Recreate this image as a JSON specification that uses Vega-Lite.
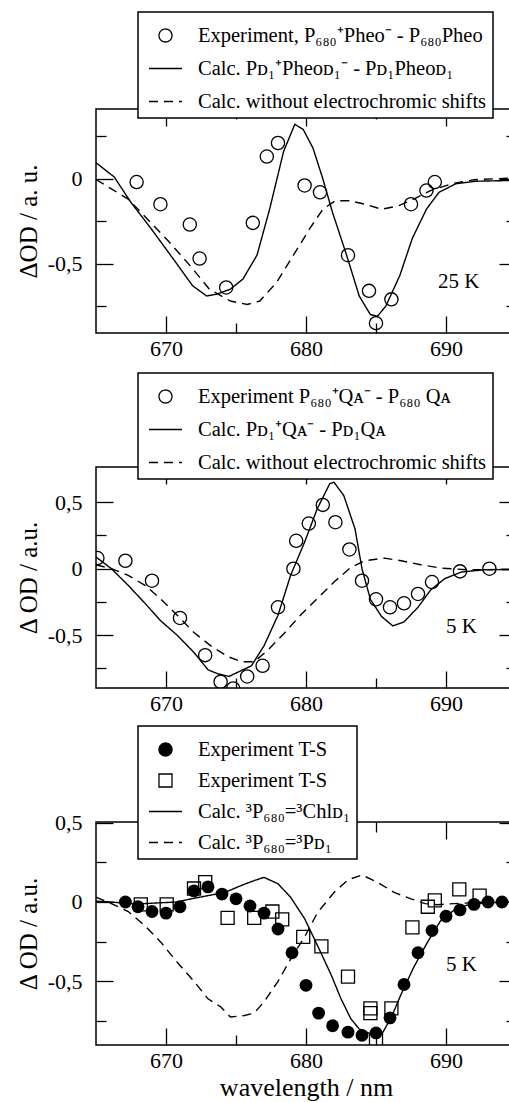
{
"$schema": "https://vega.github.io/schema/vega-lite/v6.json",
"background": "white",
"padding": {"left": 15, "top": 10, "right": 0, "bottom": 0},
"bounds": "flush",
"spacing": 134,
"resolve": {"scale": {"color": "independent", "strokeDash": "independent"}, "legend": {"color": "independent", "strokeDash": "independent"}},
"config": {
  "view": {"stroke": "black", "strokeWidth": 1.5, "fill": "white"},
  "font": "Liberation Serif",
  "axis": {"domain": false, "grid": false, "tickColor": "black", "tickWidth": 1.3, "labelFont": "Liberation Serif", "labelFontSize": 22, "labelColor": "black", "labelFlush": false, "labelOverlap": false, "titleFont": "Liberation Serif", "titleFontWeight": "normal", "titleColor": "black"},
  "axisX": {"labelPadding": 22},
  "axisY": {"labelPadding": 31},
  "legend": {"labelFont": "Liberation Serif", "labelFontSize": 20.5, "labelColor": "black", "labelLimit": 0, "fillColor": "white", "strokeColor": "black", "padding": 6, "rowPadding": 5, "labelOffset": 15, "symbolSize": 961, "symbolOffset": 4, "title": null}
},
"datasets": {
"p1": [
{"s":"a","wl":667.9,"v":-0.02},{"s":"a","wl":669.6,"v":-0.15},{"s":"a","wl":671.7,"v":-0.27},{"s":"a","wl":672.4,"v":-0.47},{"s":"a","wl":674.3,"v":-0.64},{"s":"a","wl":676.2,"v":-0.26},{"s":"a","wl":677.2,"v":0.13},{"s":"a","wl":678.0,"v":0.21},{"s":"a","wl":679.9,"v":-0.04},{"s":"a","wl":681.0,"v":-0.08},{"s":"a","wl":683.0,"v":-0.45},{"s":"a","wl":684.5,"v":-0.66},{"s":"a","wl":685.0,"v":-0.85},{"s":"a","wl":686.1,"v":-0.71},{"s":"a","wl":687.5,"v":-0.15},{"s":"a","wl":688.6,"v":-0.07},{"s":"a","wl":689.2,"v":-0.02},
{"s":"b","wl":665,"v":0.094},{"s":"b","wl":666.3,"v":0.01},{"s":"b","wl":667.5,"v":-0.14},{"s":"b","wl":668.9,"v":-0.29},{"s":"b","wl":670.5,"v":-0.47},{"s":"b","wl":671.9,"v":-0.63},{"s":"b","wl":672.9,"v":-0.69},{"s":"b","wl":673.6,"v":-0.68},{"s":"b","wl":674.6,"v":-0.65},{"s":"b","wl":675.5,"v":-0.59},{"s":"b","wl":676.5,"v":-0.45},{"s":"b","wl":677.4,"v":-0.18},{"s":"b","wl":678.4,"v":0.16},{"s":"b","wl":679.2,"v":0.32},{"s":"b","wl":679.8,"v":0.29},{"s":"b","wl":680.5,"v":0.18},{"s":"b","wl":681.2,"v":0},{"s":"b","wl":681.9,"v":-0.2},{"s":"b","wl":682.9,"v":-0.45},{"s":"b","wl":683.8,"v":-0.69},{"s":"b","wl":684.6,"v":-0.8},{"s":"b","wl":685.1,"v":-0.81},{"s":"b","wl":685.7,"v":-0.75},{"s":"b","wl":686.7,"v":-0.57},{"s":"b","wl":687.6,"v":-0.35},{"s":"b","wl":688.6,"v":-0.18},{"s":"b","wl":689.5,"v":-0.08},{"s":"b","wl":690.7,"v":-0.03},{"s":"b","wl":692.1,"v":-0.015},{"s":"b","wl":695,"v":-0.01},
{"s":"c","wl":665,"v":-0.005},{"s":"c","wl":666.1,"v":-0.06},{"s":"c","wl":667.3,"v":-0.12},{"s":"c","wl":668.7,"v":-0.24},{"s":"c","wl":670.2,"v":-0.37},{"s":"c","wl":671.7,"v":-0.51},{"s":"c","wl":673.1,"v":-0.65},{"s":"c","wl":674.6,"v":-0.72},{"s":"c","wl":675.8,"v":-0.74},{"s":"c","wl":676.7,"v":-0.72},{"s":"c","wl":677.9,"v":-0.61},{"s":"c","wl":679.1,"v":-0.45},{"s":"c","wl":680.3,"v":-0.29},{"s":"c","wl":681.2,"v":-0.18},{"s":"c","wl":682.1,"v":-0.13},{"s":"c","wl":683.1,"v":-0.13},{"s":"c","wl":684.2,"v":-0.15},{"s":"c","wl":685.4,"v":-0.18},{"s":"c","wl":686.6,"v":-0.16},{"s":"c","wl":687.7,"v":-0.12},{"s":"c","wl":688.9,"v":-0.07},{"s":"c","wl":690.4,"v":-0.03},{"s":"c","wl":692.0,"v":-0.006},{"s":"c","wl":695,"v":0.005}
],
"p2": [
{"s":"a","wl":665.1,"v":0.08},{"s":"a","wl":667.1,"v":0.06},{"s":"a","wl":669.0,"v":-0.09},{"s":"a","wl":671.0,"v":-0.37},{"s":"a","wl":672.8,"v":-0.65},{"s":"a","wl":673.9,"v":-0.85},{"s":"a","wl":674.8,"v":-0.9},{"s":"a","wl":675.8,"v":-0.81},{"s":"a","wl":676.9,"v":-0.73},{"s":"a","wl":678.0,"v":-0.29},{"s":"a","wl":679.1,"v":0},{"s":"a","wl":679.3,"v":0.21},{"s":"a","wl":680.2,"v":0.34},{"s":"a","wl":681.2,"v":0.48},{"s":"a","wl":682.1,"v":0.35},{"s":"a","wl":683.1,"v":0.145},{"s":"a","wl":684.0,"v":-0.09},{"s":"a","wl":685.0,"v":-0.23},{"s":"a","wl":686.0,"v":-0.29},{"s":"a","wl":687.0,"v":-0.26},{"s":"a","wl":688.0,"v":-0.19},{"s":"a","wl":689.0,"v":-0.1},{"s":"a","wl":691.0,"v":-0.02},{"s":"a","wl":693.1,"v":0},
{"s":"b","wl":665,"v":0.088},{"s":"b","wl":666.1,"v":0},{"s":"b","wl":667.3,"v":-0.125},{"s":"b","wl":668.5,"v":-0.26},{"s":"b","wl":669.6,"v":-0.39},{"s":"b","wl":670.8,"v":-0.5},{"s":"b","wl":672.0,"v":-0.63},{"s":"b","wl":673.0,"v":-0.76},{"s":"b","wl":673.7,"v":-0.79},{"s":"b","wl":674.5,"v":-0.81},{"s":"b","wl":675.1,"v":-0.78},{"s":"b","wl":676.1,"v":-0.73},{"s":"b","wl":677.0,"v":-0.58},{"s":"b","wl":678.0,"v":-0.35},{"s":"b","wl":678.9,"v":-0.05},{"s":"b","wl":679.9,"v":0.2},{"s":"b","wl":680.8,"v":0.45},{"s":"b","wl":681.7,"v":0.64},{"s":"b","wl":682.0,"v":0.65},{"s":"b","wl":682.7,"v":0.55},{"s":"b","wl":683.5,"v":0.3},{"s":"b","wl":684.0,"v":0},{"s":"b","wl":684.6,"v":-0.23},{"s":"b","wl":685.4,"v":-0.36},{"s":"b","wl":686.2,"v":-0.43},{"s":"b","wl":687.0,"v":-0.4},{"s":"b","wl":688.0,"v":-0.29},{"s":"b","wl":688.9,"v":-0.16},{"s":"b","wl":689.9,"v":-0.075},{"s":"b","wl":691.1,"v":-0.025},{"s":"b","wl":692.7,"v":-0.008},{"s":"b","wl":695,"v":-0.005},
{"s":"c","wl":665,"v":0.03},{"s":"c","wl":666.1,"v":0},{"s":"c","wl":667.3,"v":-0.05},{"s":"c","wl":668.5,"v":-0.125},{"s":"c","wl":669.6,"v":-0.225},{"s":"c","wl":670.8,"v":-0.35},{"s":"c","wl":672.0,"v":-0.48},{"s":"c","wl":673.2,"v":-0.58},{"s":"c","wl":674.4,"v":-0.66},{"s":"c","wl":675.4,"v":-0.7},{"s":"c","wl":676.3,"v":-0.7},{"s":"c","wl":677.3,"v":-0.61},{"s":"c","wl":678.5,"v":-0.48},{"s":"c","wl":679.6,"v":-0.35},{"s":"c","wl":680.8,"v":-0.225},{"s":"c","wl":682.0,"v":-0.1},{"s":"c","wl":683.2,"v":0.01},{"s":"c","wl":684.2,"v":0.06},{"s":"c","wl":685.6,"v":0.08},{"s":"c","wl":686.8,"v":0.06},{"s":"c","wl":688.2,"v":0.03},{"s":"c","wl":689.6,"v":0.005},{"s":"c","wl":691.5,"v":-0.008},{"s":"c","wl":695,"v":-0.005}
],
"p3": [
{"s":"a","wl":667.1,"v":0},{"s":"a","wl":668.0,"v":-0.03},{"s":"a","wl":669.0,"v":-0.06},{"s":"a","wl":670.0,"v":-0.07},{"s":"a","wl":671.0,"v":-0.03},{"s":"a","wl":672.0,"v":0.07},{"s":"a","wl":673.0,"v":0.095},{"s":"a","wl":674.0,"v":0.05},{"s":"a","wl":675.0,"v":0.02},{"s":"a","wl":676.0,"v":-0.025},{"s":"a","wl":677.0,"v":-0.07},{"s":"a","wl":678.0,"v":-0.17},{"s":"a","wl":679.0,"v":-0.32},{"s":"a","wl":680.0,"v":-0.525},{"s":"a","wl":680.9,"v":-0.7},{"s":"a","wl":681.9,"v":-0.78},{"s":"a","wl":683.0,"v":-0.82},{"s":"a","wl":684.0,"v":-0.84},{"s":"a","wl":685.0,"v":-0.825},{"s":"a","wl":686.0,"v":-0.73},{"s":"a","wl":687.0,"v":-0.52},{"s":"a","wl":688.0,"v":-0.32},{"s":"a","wl":689.0,"v":-0.18},{"s":"a","wl":690.0,"v":-0.09},{"s":"a","wl":691.0,"v":-0.05},{"s":"a","wl":692.0,"v":-0.015},{"s":"a","wl":693.0,"v":0},{"s":"a","wl":694.0,"v":0},
{"s":"b","wl":668.2,"v":-0.015},{"s":"b","wl":670.05,"v":-0.015},{"s":"b","wl":672.0,"v":0.085},{"s":"b","wl":672.8,"v":0.125},{"s":"b","wl":674.4,"v":-0.1},{"s":"b","wl":676.3,"v":-0.1},{"s":"b","wl":677.6,"v":-0.06},{"s":"b","wl":678.3,"v":-0.11},{"s":"b","wl":679.8,"v":-0.22},{"s":"b","wl":681.1,"v":-0.28},{"s":"b","wl":683.0,"v":-0.47},{"s":"b","wl":684.6,"v":-0.67},{"s":"b","wl":684.6,"v":-0.7},{"s":"b","wl":685.0,"v":-0.87},{"s":"b","wl":686.1,"v":-0.67},{"s":"b","wl":687.6,"v":-0.16},{"s":"b","wl":688.7,"v":-0.03},{"s":"b","wl":689.2,"v":0.01},{"s":"b","wl":690.95,"v":0.08},{"s":"b","wl":692.4,"v":0.04},
{"s":"c","wl":665,"v":0.005},{"s":"c","wl":666.1,"v":0},{"s":"c","wl":667.3,"v":-0.01},{"s":"c","wl":668.5,"v":-0.01},{"s":"c","wl":669.6,"v":-0.005},{"s":"c","wl":670.8,"v":0},{"s":"c","wl":671.8,"v":0.02},{"s":"c","wl":673.0,"v":0.04},{"s":"c","wl":674.2,"v":0.06},{"s":"c","wl":675.4,"v":0.105},{"s":"c","wl":676.3,"v":0.135},{"s":"c","wl":677.0,"v":0.155},{"s":"c","wl":678.0,"v":0.115},{"s":"c","wl":678.9,"v":0.03},{"s":"c","wl":679.9,"v":-0.105},{"s":"c","wl":680.8,"v":-0.27},{"s":"c","wl":681.8,"v":-0.46},{"s":"c","wl":682.5,"v":-0.61},{"s":"c","wl":683.2,"v":-0.735},{"s":"c","wl":683.8,"v":-0.8},{"s":"c","wl":684.6,"v":-0.83},{"s":"c","wl":685.5,"v":-0.82},{"s":"c","wl":686.1,"v":-0.725},{"s":"c","wl":686.8,"v":-0.58},{"s":"c","wl":687.7,"v":-0.41},{"s":"c","wl":688.7,"v":-0.25},{"s":"c","wl":689.6,"v":-0.12},{"s":"c","wl":690.6,"v":-0.05},{"s":"c","wl":691.5,"v":-0.02},{"s":"c","wl":692.7,"v":-0.006},{"s":"c","wl":695,"v":0},
{"s":"d","wl":665,"v":0.03},{"s":"d","wl":666.1,"v":-0.01},{"s":"d","wl":667.3,"v":-0.06},{"s":"d","wl":668.5,"v":-0.15},{"s":"d","wl":669.6,"v":-0.25},{"s":"d","wl":670.8,"v":-0.38},{"s":"d","wl":672.0,"v":-0.5},{"s":"d","wl":673.0,"v":-0.61},{"s":"d","wl":673.9,"v":-0.66},{"s":"d","wl":674.6,"v":-0.725},{"s":"d","wl":675.6,"v":-0.715},{"s":"d","wl":676.3,"v":-0.7},{"s":"d","wl":677.0,"v":-0.63},{"s":"d","wl":678.0,"v":-0.5},{"s":"d","wl":678.9,"v":-0.36},{"s":"d","wl":679.9,"v":-0.22},{"s":"d","wl":680.8,"v":-0.07},{"s":"d","wl":682.0,"v":0.06},{"s":"d","wl":683.0,"v":0.14},{"s":"d","wl":684.0,"v":0.17},{"s":"d","wl":685.1,"v":0.125},{"s":"d","wl":686.3,"v":0.06},{"s":"d","wl":687.5,"v":0.02},{"s":"d","wl":688.5,"v":-0.01},{"s":"d","wl":689.4,"v":-0.017},{"s":"d","wl":690.6,"v":-0.01},{"s":"d","wl":692.3,"v":-0.004},{"s":"d","wl":695,"v":0}
]
},
"vconcat": [
{
  "width": 420, "height": 224,
  "data": {"name": "p1"},
  "resolve": {"axis": {"x": "independent", "y": "independent"}},
  "layer": [
    {
      "transform": [{"filter": "datum.s != 'a'"}],
      "mark": {"type": "line", "clip": true, "strokeWidth": 1.4},
      "encoding": {
        "x": {"field": "wl", "type": "quantitative", "scale": {"domain": [665, 695], "nice": false, "zero": false},
              "axis": {"orient": "bottom", "values": [670, 675, 680, 685, 690], "labelExpr": "datum.value % 10 == 0 ? toString(datum.value) : ''", "tickSize": {"condition": {"test": "datum.value % 10 == 0", "value": -17}, "value": -10}, "title": null}},
        "y": {"field": "v", "type": "quantitative", "scale": {"domain": [-0.908, 0.41], "nice": false, "zero": false},
              "axis": {"orient": "left", "values": [-0.75, -0.5, -0.25, 0, 0.25], "labelExpr": "abs(datum.value) % 0.5 == 0 ? (datum.value < 0 ? '-' : '') + replace(toString(abs(datum.value)), '.', ',') : ''", "tickSize": {"condition": {"test": "abs(datum.value) % 0.5 == 0", "value": -17}, "value": -10}, "title": "ΔOD / a. u.", "titleFontSize": 25, "titlePadding": 6}},
        "color": {"field": "s", "type": "nominal", "scale": {"domain": ["a", "b", "c"], "range": ["black", "black", "black"]},
          "legend": {"orient": "none", "legendX": 42, "legendY": -97,
            "labelExpr": "datum.value == 'a' ? 'Experiment, P₆₈₀⁺Pheo⁻ - P₆₈₀Pheo' : datum.value == 'b' ? 'Calc. Pᴅ₁⁺Pheoᴅ₁⁻ - Pᴅ₁Pheoᴅ₁' : 'Calc. without electrochromic shifts'",
            "encode": {"symbols": {"update": {
              "shape": {"signal": "datum.value == 'a' ? 'circle' : 'stroke'"},
              "size": {"signal": "datum.value == 'a' ? 170 : 1089"},
              "strokeDash": {"signal": "datum.value == 'c' ? [12, 9] : [1, 0]"},
              "fill": {"value": "transparent"}, "stroke": {"value": "black"}, "strokeWidth": {"value": 1.3}, "opacity": {"value": 1}}},
              "legend": {"update": {"strokeWidth": {"value": 1.5}}}}}},
        "strokeDash": {"field": "s", "type": "nominal", "scale": {"domain": ["a", "b", "c"], "range": [[1, 0], [1, 0], [9, 6]]}, "legend": null}
      }
    },
    {
      "transform": [{"filter": "datum.s == 'a'"}],
      "mark": {"type": "point", "shape": "circle", "filled": false, "size": 175, "strokeWidth": 1.3, "opacity": 1, "clip": true},
      "encoding": {
        "x": {"field": "wl", "type": "quantitative", "axis": {"orient": "top", "values": [670, 675, 680, 685, 690], "labels": false, "tickSize": {"condition": {"test": "datum.value % 10 == 0", "value": -17}, "value": -10}, "title": null}},
        "y": {"field": "v", "type": "quantitative", "axis": {"orient": "right", "values": [-0.75, -0.5, -0.25, 0, 0.25], "labels": false, "tickSize": {"condition": {"test": "abs(datum.value) % 0.5 == 0", "value": -17}, "value": -10}, "title": null}},
        "color": {"field": "s", "type": "nominal"}
      }
    },
    {
      "data": {"values": [{"wl": 690.9, "v": -0.61, "t": "25 K"}]},
      "mark": {"type": "text", "font": "Liberation Serif", "fontSize": 21, "align": "center", "baseline": "middle", "color": "black"},
      "encoding": {
        "x": {"field": "wl", "type": "quantitative", "axis": null},
        "y": {"field": "v", "type": "quantitative", "axis": null},
        "text": {"field": "t"}
      }
    }
  ]
},
{
  "width": 420, "height": 221,
  "data": {"name": "p2"},
  "resolve": {"axis": {"x": "independent", "y": "independent"}},
  "layer": [
    {
      "transform": [{"filter": "datum.s != 'a'"}],
      "mark": {"type": "line", "clip": true, "strokeWidth": 1.4},
      "encoding": {
        "x": {"field": "wl", "type": "quantitative", "scale": {"domain": [665, 695], "nice": false, "zero": false},
              "axis": {"orient": "bottom", "values": [670, 675, 680, 685, 690], "labelExpr": "datum.value % 10 == 0 ? toString(datum.value) : ''", "tickSize": {"condition": {"test": "datum.value % 10 == 0", "value": -17}, "value": -10}, "title": null}},
        "y": {"field": "v", "type": "quantitative", "scale": {"domain": [-0.897, 0.765], "nice": false, "zero": false},
              "axis": {"orient": "left", "values": [-0.75, -0.5, -0.25, 0, 0.25, 0.5], "labelExpr": "abs(datum.value) % 0.5 == 0 ? (datum.value < 0 ? '-' : '') + replace(toString(abs(datum.value)), '.', ',') : ''", "tickSize": {"condition": {"test": "abs(datum.value) % 0.5 == 0", "value": -17}, "value": -10}, "title": "Δ OD / a.u.", "titleFontSize": 25, "titlePadding": 6}},
        "color": {"field": "s", "type": "nominal", "scale": {"domain": ["a", "b", "c"], "range": ["black", "black", "black"]},
          "legend": {"orient": "none", "legendX": 42, "legendY": -94,
            "labelExpr": "datum.value == 'a' ? 'Experiment P₆₈₀⁺Qᴀ⁻ -  P₆₈₀ Qᴀ' : datum.value == 'b' ? 'Calc. Pᴅ₁⁺Qᴀ⁻ - Pᴅ₁Qᴀ' : 'Calc. without electrochromic shifts'",
            "encode": {"symbols": {"update": {
              "shape": {"signal": "datum.value == 'a' ? 'circle' : 'stroke'"},
              "size": {"signal": "datum.value == 'a' ? 170 : 1089"},
              "strokeDash": {"signal": "datum.value == 'c' ? [12, 9] : [1, 0]"},
              "fill": {"value": "transparent"}, "stroke": {"value": "black"}, "strokeWidth": {"value": 1.3}, "opacity": {"value": 1}}},
              "legend": {"update": {"strokeWidth": {"value": 1.5}}}}}},
        "strokeDash": {"field": "s", "type": "nominal", "scale": {"domain": ["a", "b", "c"], "range": [[1, 0], [1, 0], [9, 6]]}, "legend": null}
      }
    },
    {
      "transform": [{"filter": "datum.s == 'a'"}],
      "mark": {"type": "point", "shape": "circle", "filled": false, "size": 175, "strokeWidth": 1.3, "opacity": 1, "clip": true},
      "encoding": {
        "x": {"field": "wl", "type": "quantitative", "axis": {"orient": "top", "values": [670, 675, 680, 685, 690], "labels": false, "tickSize": {"condition": {"test": "datum.value % 10 == 0", "value": -17}, "value": -10}, "title": null}},
        "y": {"field": "v", "type": "quantitative", "axis": {"orient": "right", "values": [-0.75, -0.5, -0.25, 0, 0.25, 0.5], "labels": false, "tickSize": {"condition": {"test": "abs(datum.value) % 0.5 == 0", "value": -17}, "value": -10}, "title": null}},
        "color": {"field": "s", "type": "nominal"}
      }
    },
    {
      "data": {"values": [{"wl": 691.1, "v": -0.44, "t": "5 K"}]},
      "mark": {"type": "text", "font": "Liberation Serif", "fontSize": 21, "align": "center", "baseline": "middle", "color": "black"},
      "encoding": {
        "x": {"field": "wl", "type": "quantitative", "axis": null},
        "y": {"field": "v", "type": "quantitative", "axis": null},
        "text": {"field": "t"}
      }
    }
  ]
},
{
  "width": 420, "height": 223,
  "data": {"name": "p3"},
  "resolve": {"axis": {"x": "independent", "y": "independent"}},
  "layer": [
    {
      "transform": [{"filter": "datum.s == 'c' || datum.s == 'd'"}],
      "mark": {"type": "line", "clip": true, "strokeWidth": 1.4},
      "encoding": {
        "x": {"field": "wl", "type": "quantitative", "scale": {"domain": [665, 695], "nice": false, "zero": false},
              "axis": {"orient": "bottom", "values": [670, 675, 680, 685, 690], "labelExpr": "datum.value % 10 == 0 ? toString(datum.value) : ''", "tickSize": {"condition": {"test": "datum.value % 10 == 0", "value": -17}, "value": -10}, "title": "wavelength / nm", "titleFontSize": 26, "titlePadding": -4}},
        "y": {"field": "v", "type": "quantitative", "scale": {"domain": [-0.901, 0.504], "nice": false, "zero": false},
              "axis": {"orient": "left", "values": [-0.75, -0.5, -0.25, 0, 0.25, 0.5], "labelExpr": "abs(datum.value) % 0.5 == 0 ? (datum.value < 0 ? '-' : '') + replace(toString(abs(datum.value)), '.', ',') : ''", "tickSize": {"condition": {"test": "abs(datum.value) % 0.5 == 0", "value": -17}, "value": -10}, "title": "Δ OD / a.u.", "titleFontSize": 25, "titlePadding": 6}},
        "color": {"field": "s", "type": "nominal", "scale": {"domain": ["a", "b", "c", "d"], "range": ["black", "black", "black", "black"]},
          "legend": {"orient": "none", "legendX": 42, "legendY": -96, "rowPadding": 3,
            "labelExpr": "datum.value == 'a' ? 'Experiment T-S' : datum.value == 'b' ? 'Experiment T-S' : datum.value == 'c' ? 'Calc. ³P₆₈₀=³Chlᴅ₁' : 'Calc. ³P₆₈₀=³Pᴅ₁'",
            "encode": {"symbols": {"update": {
              "shape": {"signal": "datum.value == 'a' ? 'circle' : datum.value == 'b' ? 'square' : 'stroke'"},
              "size": {"signal": "datum.value == 'a' ? 170 : datum.value == 'b' ? 170 : 1089"},
              "strokeDash": {"signal": "datum.value == 'd' ? [12, 9] : [1, 0]"},
              "fill": {"signal": "datum.value == 'a' ? 'black' : 'white'"},
              "fillOpacity": {"signal": "datum.value == 'a' ? 1 : 0"},
              "stroke": {"value": "black"}, "strokeWidth": {"value": 1.3}, "opacity": {"value": 1}}},
              "legend": {"update": {"strokeWidth": {"value": 1.5}}}}}},
        "strokeDash": {"field": "s", "type": "nominal", "scale": {"domain": ["a", "b", "c", "d"], "range": [[1, 0], [1, 0], [1, 0], [9, 6]]}, "legend": null}
      }
    },
    {
      "transform": [{"filter": "datum.s == 'b'"}],
      "mark": {"type": "point", "shape": "square", "filled": false, "size": 170, "strokeWidth": 1.3, "opacity": 1, "clip": true},
      "encoding": {
        "x": {"field": "wl", "type": "quantitative", "axis": null},
        "y": {"field": "v", "type": "quantitative", "axis": null},
        "color": {"field": "s", "type": "nominal"}
      }
    },
    {
      "transform": [{"filter": "datum.s == 'a'"}],
      "mark": {"type": "point", "shape": "circle", "filled": true, "size": 165, "opacity": 1, "clip": true},
      "encoding": {
        "x": {"field": "wl", "type": "quantitative", "axis": {"orient": "top", "values": [670, 675, 680, 685, 690], "labels": false, "tickSize": {"condition": {"test": "datum.value % 10 == 0", "value": -17}, "value": -10}, "title": null}},
        "y": {"field": "v", "type": "quantitative", "axis": {"orient": "right", "values": [-0.75, -0.5, -0.25, 0, 0.25, 0.5], "labels": false, "tickSize": {"condition": {"test": "abs(datum.value) % 0.5 == 0", "value": -17}, "value": -10}, "title": null}},
        "color": {"field": "s", "type": "nominal"}
      }
    },
    {
      "data": {"values": [{"wl": 691.1, "v": -0.4, "t": "5 K"}]},
      "mark": {"type": "text", "font": "Liberation Serif", "fontSize": 21, "align": "center", "baseline": "middle", "color": "black"},
      "encoding": {
        "x": {"field": "wl", "type": "quantitative", "axis": null},
        "y": {"field": "v", "type": "quantitative", "axis": null},
        "text": {"field": "t"}
      }
    }
  ]
}
]
}
